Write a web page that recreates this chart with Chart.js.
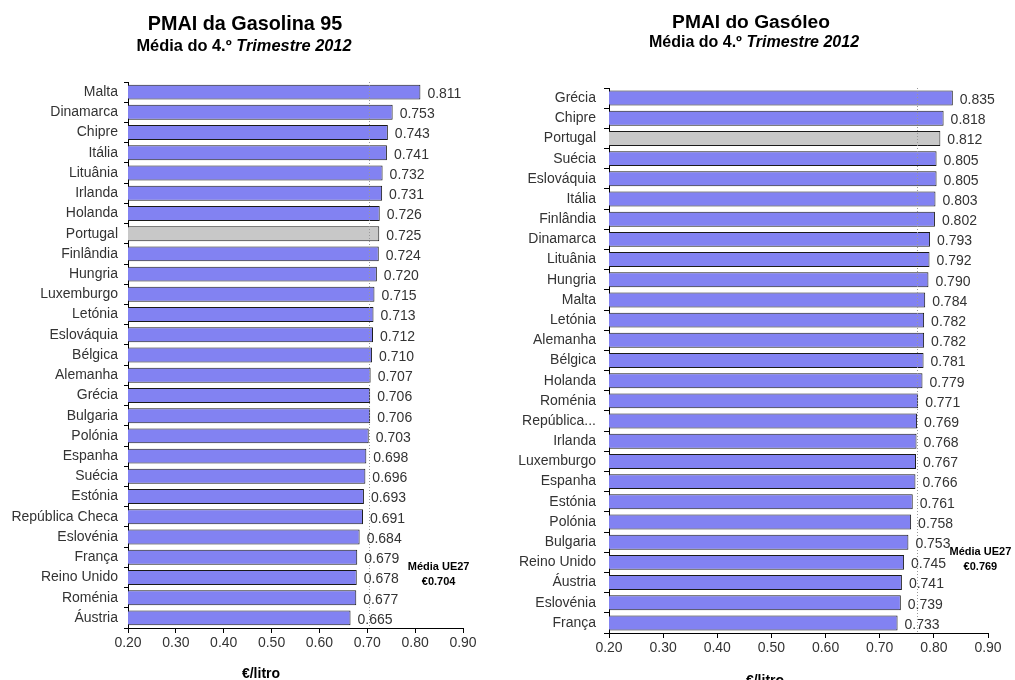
<!DOCTYPE html>
<html>
<head>
<meta charset="utf-8">
<script src="https://cdn.jsdelivr.net/npm/chart.js@4.4.0/dist/chart.umd.min.js"></script>
<style>
  body { margin: 0; background: #fff; width: 1015px; height: 680px; overflow: hidden; position: relative;
         font-family: "Liberation Sans", Arial, sans-serif; }
  canvas { position: absolute; top: 0; }
  .txt { position: absolute; font-weight: bold; color: #000; white-space: nowrap; transform: translate(-50%, -50%); line-height: 1; }
  .eixo { font-size: 14px; }
</style>
</head>
<body>
<canvas id="gasolina"></canvas>
<canvas id="gasoleo"></canvas>

<div class="txt" style="left:245px;top:24px;font-size:19.8px">PMAI da Gasolina 95</div>
<div class="txt" style="left:244px;top:45px;font-size:16.4px">Média do 4.º <i>Trimestre 2012</i></div>
<div class="txt" style="left:751px;top:22px;font-size:19.2px">PMAI do Gasóleo</div>
<div class="txt" style="left:754px;top:42px;font-size:16px">Média do 4.º <i>Trimestre 2012</i></div>
<div class="txt eixo" style="left:261px;top:673px">€/litro</div>
<div class="txt eixo" style="left:765px;top:680px">€/litro</div>

<script>
// dados
const paisesGasolina = ["Malta", "Dinamarca", "Chipre", "Itália", "Lituânia", "Irlanda", "Holanda", "Portugal",
  "Finlândia", "Hungria", "Luxemburgo", "Letónia", "Eslováquia", "Bélgica", "Alemanha", "Grécia", "Bulgaria",
  "Polónia", "Espanha", "Suécia", "Estónia", "República Checa", "Eslovénia", "França", "Reino Unido", "Roménia", "Áustria"];
const valoresGasolina = [0.811, 0.753, 0.743, 0.741, 0.732, 0.731, 0.726, 0.725, 0.724, 0.720, 0.715, 0.713, 0.712,
  0.710, 0.707, 0.706, 0.706, 0.703, 0.698, 0.696, 0.693, 0.691, 0.684, 0.679, 0.678, 0.677, 0.665];
const mediaGasolina = 0.704;

const paisesGasoleo = ["Grécia", "Chipre", "Portugal", "Suécia", "Eslováquia", "Itália", "Finlândia", "Dinamarca",
  "Lituânia", "Hungria", "Malta", "Letónia", "Alemanha", "Bélgica", "Holanda", "Roménia", "República...", "Irlanda",
  "Luxemburgo", "Espanha", "Estónia", "Polónia", "Bulgaria", "Reino Unido", "Áustria", "Eslovénia", "França"];
const valoresGasoleo = [0.835, 0.818, 0.812, 0.805, 0.805, 0.803, 0.802, 0.793, 0.792, 0.790, 0.784, 0.782, 0.782,
  0.781, 0.779, 0.771, 0.769, 0.768, 0.767, 0.766, 0.761, 0.758, 0.753, 0.745, 0.741, 0.739, 0.733];
const mediaGasoleo = 0.769;

const eixoMin = 0.2;
const eixoMax = 0.9;
const eixoPasso = 0.1;

const corBarra = "#8282f2";
const corPortugal = "#c8c8c8";

// valores à direita das barras
const rotulosValores = {
  id: "rotulosValores",
  afterDatasetsDraw(chart) {
    const ctx = chart.ctx;
    const meta = chart.getDatasetMeta(0);
    ctx.save();
    ctx.font = '14px "Liberation Sans", Arial, sans-serif';
    ctx.fillStyle = "#333";
    ctx.textAlign = "left";
    ctx.textBaseline = "middle";
    meta.data.forEach((bar, i) => {
      const v = chart.data.datasets[0].data[i];
      ctx.fillText(v.toFixed(3), bar.x + 7, bar.y + 2);
    });
    ctx.restore();
  }
};

// linha da média UE27 + texto
const linhaMedia = {
  id: "linhaMedia",
  afterDatasetsDraw(chart, args, opts) {
    const ctx = chart.ctx;
    const x = chart.scales.x.getPixelForValue(opts.valor);
    const area = chart.chartArea;
    ctx.save();
    ctx.strokeStyle = "#999";
    ctx.lineWidth = 1;
    ctx.setLineDash([1, 2]);
    ctx.beginPath();
    ctx.moveTo(Math.round(x) + 0.5, area.top);
    ctx.lineTo(Math.round(x) + 0.5, area.bottom);
    ctx.stroke();
    ctx.setLineDash([]);

    const tx = chart.scales.x.getPixelForValue(opts.textoX);
    const ty = chart.scales.y.getPixelForValue(opts.textoY);
    ctx.font = 'bold 11px "Liberation Sans", Arial, sans-serif';
    ctx.fillStyle = "#000";
    ctx.textAlign = "center";
    ctx.textBaseline = "middle";
    ctx.fillText("Média UE27", tx, ty);
    ctx.fillText("€" + opts.valor.toFixed(3), tx, ty + 15);
    ctx.restore();
  }
};

function criarGrafico(id, paises, valores, media, cfg) {
  const canvas = document.getElementById(id);
  canvas.style.left = cfg.left + "px";
  canvas.width = cfg.width;
  canvas.height = 680;
  canvas.style.width = cfg.width + "px";
  canvas.style.height = "680px";

  return new Chart(canvas, {
    type: "bar",
    data: {
      labels: paises,
      datasets: [{
        data: valores,
        backgroundColor: paises.map(p => p === "Portugal" ? corPortugal : corBarra),
        borderColor: "#1a1a1a",
        borderWidth: 1,
        borderSkipped: false,
        barPercentage: 0.74,
        categoryPercentage: 1
      }]
    },
    options: {
      indexAxis: "y",
      responsive: false,
      animation: false,
      layout: { padding: { top: cfg.top, right: cfg.right, left: 0, bottom: 0 } },
      plugins: {
        legend: { display: false },
        tooltip: { enabled: false },
        linhaMedia: { valor: media, textoX: cfg.textoX, textoY: cfg.textoY }
      },
      scales: {
        x: {
          min: eixoMin,
          max: eixoMax,
          afterFit: s => { s.height = cfg.alturaX; },
          ticks: {
            stepSize: eixoPasso,
            callback: v => v.toFixed(2),
            font: { size: 14, family: '"Liberation Sans", Arial, sans-serif' },
            color: "#333",
            padding: 2
          },
          grid: { drawOnChartArea: false, tickLength: 5, color: "#000" },
          border: { color: "#000" }
        },
        y: {
          afterFit: s => { s.width = cfg.larguraY; },
          ticks: {
            autoSkip: false,
            font: { size: 14, family: '"Liberation Sans", Arial, sans-serif' },
            color: "#333",
            padding: cfg.padY
          },
          grid: { drawOnChartArea: false, tickLength: cfg.tickY, color: "#000", offset: true },
          border: { color: "#000" }
        }
      }
    },
    plugins: [rotulosValores, linhaMedia]
  });
}

criarGrafico("gasolina", paisesGasolina, valoresGasolina, mediaGasolina, {
  left: 0, width: 505, top: 82, right: 42, alturaX: 52, larguraY: 128, padY: 6, tickY: 4,
  textoX: 0.849, textoY: 23.5
});

criarGrafico("gasoleo", paisesGasoleo, valoresGasoleo, mediaGasoleo, {
  left: 505, width: 510, top: 88, right: 27, alturaX: 47, larguraY: 104, padY: 8, tickY: 5,
  textoX: 0.886, textoY: 22.5
});
</script>
</body>
</html>
